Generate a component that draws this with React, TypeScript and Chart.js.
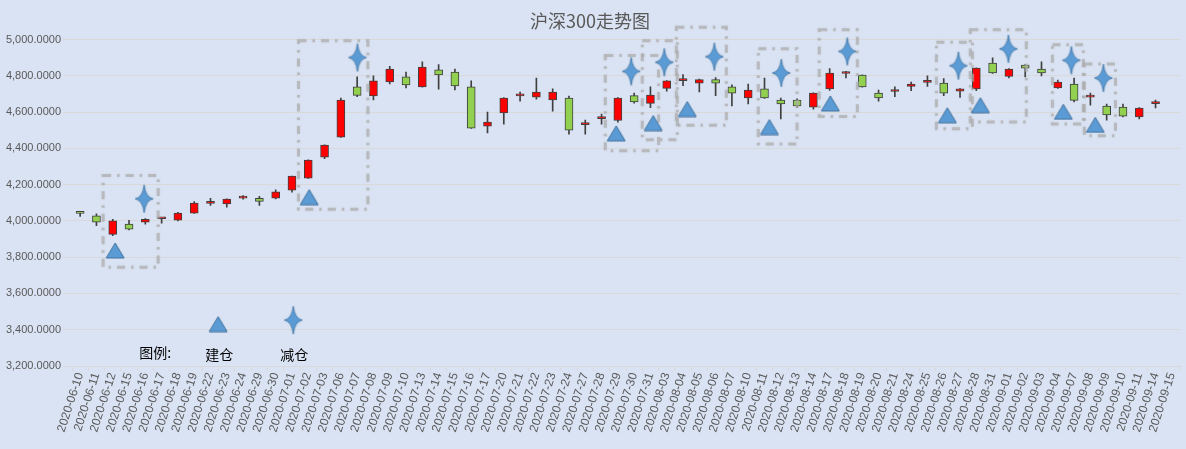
import { useEffect, useRef } from 'react'
import Chart from 'chart.js/auto'

const dates = [
  '2020-06-10', '2020-06-11', '2020-06-12', '2020-06-15', '2020-06-16', '2020-06-17', '2020-06-18', '2020-06-19',
  '2020-06-22', '2020-06-23', '2020-06-24', '2020-06-29', '2020-06-30', '2020-07-01', '2020-07-02', '2020-07-03',
  '2020-07-06', '2020-07-07', '2020-07-08', '2020-07-09', '2020-07-10', '2020-07-13', '2020-07-14', '2020-07-15',
  '2020-07-16', '2020-07-17', '2020-07-20', '2020-07-21', '2020-07-22', '2020-07-23', '2020-07-24', '2020-07-27',
  '2020-07-28', '2020-07-29', '2020-07-30', '2020-07-31', '2020-08-03', '2020-08-04', '2020-08-05', '2020-08-06',
  '2020-08-07', '2020-08-10', '2020-08-11', '2020-08-12', '2020-08-13', '2020-08-14', '2020-08-17', '2020-08-18',
  '2020-08-19', '2020-08-20', '2020-08-21', '2020-08-24', '2020-08-25', '2020-08-26', '2020-08-27', '2020-08-28',
  '2020-08-31', '2020-09-01', '2020-09-02', '2020-09-03', '2020-09-04', '2020-09-07', '2020-09-08', '2020-09-09',
  '2020-09-10', '2020-09-11', '2020-09-14', '2020-09-15',
]

// 开盘 / 最高 / 最低 / 收盘 (09-15 无数据)
const openPrices = [
  4044, 4028, 3926, 3982, 3993, 4012, 4004, 4043, 4097, 4094, 4126, 4125, 4125, 4170, 4236, 4352,
  4462, 4739, 4689, 4766, 4794, 4739, 4833, 4821, 4739, 4523, 4595, 4690, 4683, 4667, 4678, 4531,
  4564, 4554, 4691, 4648, 4731, 4774, 4760, 4779, 4739, 4678, 4728, 4667, 4667, 4628, 4728, 4813,
  4805, 4705, 4714, 4742, 4764, 4760, 4716, 4728, 4871, 4797, 4860, 4838, 4733, 4755, 4683, 4634,
  4628, 4573, 4647, null,
]
const highPrices = [
  4046, 4039, 4009, 4004, 4013, 4015, 4048, 4107, 4125, 4122, 4140, 4136, 4171, 4248, 4337, 4420,
  4678, 4794, 4800, 4853, 4821, 4877, 4862, 4838, 4772, 4600, 4680, 4711, 4788, 4728, 4689, 4556,
  4589, 4680, 4705, 4740, 4774, 4807, 4782, 4790, 4750, 4755, 4788, 4678, 4674, 4707, 4840, 4825,
  4806, 4722, 4740, 4766, 4800, 4785, 4730, 4845, 4899, 4840, 4862, 4877, 4777, 4788, 4705, 4645,
  4645, 4625, 4667, null,
]
const lowPrices = [
  4025, 3974, 3919, 3950, 3982, 3987, 4000, 4041, 4085, 4076, 4120, 4086, 4122, 4159, 4234, 4344,
  4460, 4685, 4667, 4755, 4733, 4737, 4727, 4722, 4510, 4485, 4534, 4661, 4672, 4606, 4479, 4479,
  4534, 4545, 4650, 4624, 4716, 4746, 4711, 4691, 4634, 4645, 4676, 4562, 4626, 4617, 4720, 4788,
  4738, 4661, 4685, 4718, 4742, 4691, 4681, 4718, 4814, 4788, 4794, 4800, 4731, 4656, 4639, 4556,
  4573, 4562, 4623, null,
]
const closePrices = [
  4042, 3993, 4000, 3954, 4009, 4014, 4043, 4098, 4099, 4120, 4136, 4108, 4160, 4247, 4335, 4418,
  4667, 4692, 4772, 4838, 4750, 4849, 4805, 4744, 4512, 4545, 4678, 4693, 4711, 4711, 4501, 4533,
  4566, 4678, 4656, 4694, 4772, 4776, 4779, 4760, 4705, 4722, 4678, 4645, 4634, 4705, 4816, 4815,
  4739, 4678, 4716, 4755, 4766, 4705, 4728, 4843, 4816, 4838, 4843, 4816, 4766, 4665, 4694, 4584,
  4578, 4623, 4649, null,
]

// 建仓 / 减仓 标记 (x 为交易日序号)
const buyX = [2.15, 14.06, 32.9, 35.17, 37.26, 42.3, 46.04, 53.22, 55.25, 60.34, 62.3]
const buyY = [3837, 4131, 4483, 4540, 4617, 4518, 4648, 4583, 4638, 4602, 4530]
const sellX = [3.93, 17.02, 33.82, 35.85, 38.92, 43.03, 47.08, 53.9, 56.97, 60.83, 62.8]
const sellY = [4122, 4901, 4825, 4875, 4906, 4816, 4935, 4856, 4949, 4886, 4788]

// 虚线框
const boxLeft = [1.41, 13.4, 32.23, 34.5, 36.59, 41.62, 45.36, 52.55, 54.63, 59.67, 61.63]
const boxRight = [4.79, 17.66, 35.5, 36.65, 39.66, 44.0, 47.7, 54.76, 58.07, 61.57, 63.54]
const boxTop = [4250, 4994, 4913, 4994, 5068, 4950, 5054, 4985, 5054, 4971, 4866]
const boxBottom = [3744, 4065, 4387, 4448, 4527, 4424, 4576, 4508, 4545, 4534, 4470]

// 图例
const legendTexts = ['图例:', '建仓', '减仓']
const legendTextX = [4.6, 8.53, 13.14]
const legendTextY = [3276, 3265, 3265]
const legendIconX = [8.47, 13.08]
const legendIconY = [3431, 3453]

const yTicks = [3200, 3400, 3600, 3800, 4000, 4200, 4400, 4600, 4800, 5000]

function makeTriangle() {
  const c = document.createElement('canvas')
  c.width = 20
  c.height = 17
  const ctx = c.getContext('2d')
  ctx.beginPath()
  ctx.moveTo(10, 1)
  ctx.lineTo(19, 16)
  ctx.lineTo(1, 16)
  ctx.closePath()
  ctx.fillStyle = '#5B9BD5'
  ctx.fill()
  ctx.strokeStyle = '#41719C'
  ctx.lineWidth = 1
  ctx.stroke()
  return c
}

function makeStar() {
  const c = document.createElement('canvas')
  c.width = 26
  c.height = 36
  const ctx = c.getContext('2d')
  const cx = 13, cy = 18, rx = 9, ry = 14, k = 1.2
  ctx.beginPath()
  ctx.moveTo(cx, cy - ry)
  ctx.quadraticCurveTo(cx + k, cy - k, cx + rx, cy)
  ctx.quadraticCurveTo(cx + k, cy + k, cx, cy + ry)
  ctx.quadraticCurveTo(cx - k, cy + k, cx - rx, cy)
  ctx.quadraticCurveTo(cx - k, cy - k, cx, cy - ry)
  ctx.closePath()
  ctx.shadowColor = 'rgba(46,117,182,0.7)'
  ctx.shadowBlur = 2
  ctx.fillStyle = '#5B9BD5'
  ctx.fill()
  ctx.shadowBlur = 0
  ctx.strokeStyle = 'rgba(65,113,156,0.8)'
  ctx.lineWidth = 0.8
  ctx.stroke()
  return c
}

function makeOverlay(triangle, star) {
  return {
    id: 'overlay',
    afterDatasetsDraw(chart) {
      const { ctx } = chart
      // category 轴的 getPixelForValue 可以接受小数序号
      const xs = chart.scales.x
      const ys = chart.scales.y
      const px = (v) => xs.getPixelForValue(v)
      const py = (v) => ys.getPixelForValue(v)

      // 虚线框
      ctx.save()
      ctx.strokeStyle = 'rgba(170,170,170,0.65)'
      ctx.lineWidth = 3
      ctx.setLineDash([8, 6, 2.5, 6])
      ctx.shadowColor = 'rgba(170,170,170,0.5)'
      ctx.shadowBlur = 2
      boxLeft.forEach((x1, i) => {
        const l = px(x1)
        const r = px(boxRight[i])
        const t = py(boxTop[i])
        const b = py(boxBottom[i])
        ctx.strokeRect(l, t, r - l, b - t)
      })
      ctx.restore()

      // 建仓 / 减仓 标记
      const drawIcon = (img, x, y) => {
        ctx.drawImage(img, px(x) - img.width / 2, py(y) - img.height / 2)
      }
      buyX.forEach((x, i) => drawIcon(triangle, x, buyY[i]))
      sellX.forEach((x, i) => drawIcon(star, x, sellY[i]))
      drawIcon(triangle, legendIconX[0], legendIconY[0])
      drawIcon(star, legendIconX[1], legendIconY[1])

      ctx.save()
      ctx.font = '14px "Noto Sans CJK SC"'
      ctx.fillStyle = '#000000'
      ctx.textAlign = 'center'
      ctx.textBaseline = 'middle'
      legendTexts.forEach((t, i) => {
        ctx.fillText(t, px(legendTextX[i]), py(legendTextY[i]))
      })
      ctx.restore()
    },
  }
}

function TrendChart() {
  const chartRef = useRef(null)

  useEffect(() => {
    const triangle = makeTriangle()
    const star = makeStar()

    const bodyColors = openPrices.map((o, i) =>
      o !== null && closePrices[i] >= o ? '#FF0000' : '#92D050'
    )

    const myChart = new Chart(chartRef.current, {
      type: 'bar',
      data: {
        labels: dates,
        datasets: [
          {
            label: 'wick',
            data: lowPrices.map((l, i) => (l === null ? null : [l, highPrices[i]])),
            backgroundColor: '#404040',
            barThickness: 1,
            grouped: false,
            order: 2,
          },
          {
            label: 'body',
            data: openPrices.map((o, i) => (o === null ? null : [o, closePrices[i]])),
            backgroundColor: bodyColors,
            borderColor: '#404040',
            borderWidth: 1,
            borderSkipped: false,
            barThickness: 8,
            minBarLength: 2,
            grouped: false,
            order: 1,
          },
        ],
      },
      options: {
        responsive: false,
        animation: false,
        events: [],
        layout: { padding: { top: 2, right: 6, left: 0, bottom: 0 } },
        plugins: {
          legend: { display: false },
          tooltip: { enabled: false },
          title: {
            display: true,
            text: '沪深300走势图',
            color: '#595959',
            font: { family: '"Noto Sans CJK SC"', size: 18, weight: 'normal' },
            padding: { top: 8, bottom: 8 },
          },
        },
        scales: {
          x: {
            type: 'category',
            offset: true,
            grid: {
              display: true,
              drawOnChartArea: false,
              drawTicks: true,
              tickLength: 5,
              color: '#D9D9D9',
              offset: true,
            },
            border: { display: true, color: '#D9D9D9' },
            ticks: {
              autoSkip: false,
              maxRotation: 72,
              minRotation: 72,
              padding: 0,
              color: '#595959',
              font: { family: '"Liberation Sans"', size: 12 },
            },
            afterFit: (scale) => {
              scale.height = 83
            },
          },
          y: {
            min: yTicks[0],
            max: yTicks[yTicks.length - 1],
            afterBuildTicks: (scale) => {
              scale.ticks = yTicks.map((v) => ({ value: v }))
            },
            grid: { color: '#D9D9D9', tickLength: 9, drawTicks: true },
            border: { display: false },
            ticks: {
              padding: 2,
              color: '#595959',
              font: { family: '"Liberation Sans"', size: 11 },
              callback: (v) =>
                Number(v).toLocaleString('en-US', { minimumFractionDigits: 4, maximumFractionDigits: 4 }),
            },
            afterFit: (scale) => {
              scale.width = 72
            },
          },
        },
      },
      plugins: [makeOverlay(triangle, star)],
    })

    return () => {
      myChart.destroy()
    }
  }, [])

  return <canvas ref={chartRef} width={1186} height={449} />
}

export default function App() {
  return (
    <div style={{ position: 'fixed', left: 0, top: 0, width: 1186, height: 449, background: '#DAE3F3' }}>
      <TrendChart />
    </div>
  )
}
